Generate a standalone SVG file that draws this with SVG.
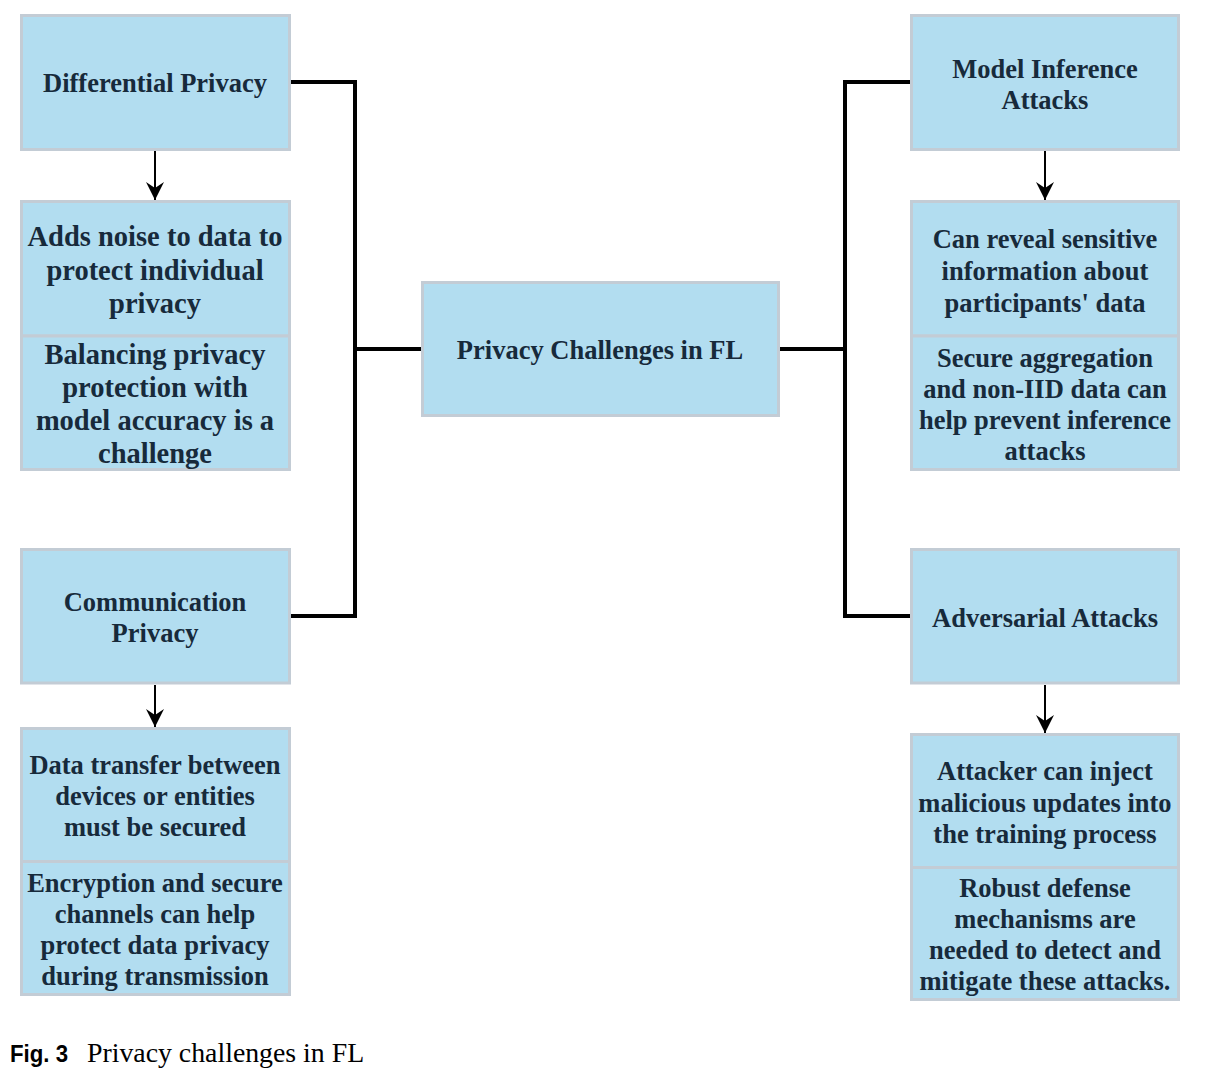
<svg xmlns="http://www.w3.org/2000/svg" width="1206" height="1079" viewBox="0 0 1206 1079">
<style>
.box{fill:#b2ddf0;stroke:#c3ccd5;stroke-width:3}
.t{font-family:"Liberation Serif","Times New Roman",serif;font-weight:bold;font-size:26.5px;fill:#172a3b;text-anchor:middle}
.tb{font-size:28.5px}
.conn{fill:none;stroke:#000;stroke-width:4}
.arr{fill:none;stroke:#000;stroke-width:2}
</style>
<defs>
<marker id="ah2" markerUnits="userSpaceOnUse" markerWidth="19" markerHeight="18" refX="18" refY="9" orient="auto" viewBox="0 0 19 18">
<path d="M0,0 L18,9 L0,18 L6,9 Z" fill="#000"/>
</marker>
</defs>
<rect width="1206" height="1079" fill="#fff"/>
<g id="connectors">
<polyline class="conn" points="291,82 355,82 355,616 291,616"/>
<line class="conn" x1="355" y1="349" x2="421" y2="349"/>
<polyline class="conn" points="910,82 845,82 845,616 910,616"/>
<line class="conn" x1="780" y1="349" x2="845" y2="349"/>
<line class="arr" x1="155" y1="151" x2="155" y2="200" marker-end="url(#ah2)"/>
<line class="arr" x1="155" y1="685" x2="155" y2="727" marker-end="url(#ah2)"/>
<line class="arr" x1="1045" y1="151" x2="1045" y2="200" marker-end="url(#ah2)"/>
<line class="arr" x1="1045" y1="685" x2="1045" y2="733" marker-end="url(#ah2)"/>
</g>
<g id="center">
<rect class="box" x="422.5" y="282.5" width="356" height="133"/>
<text class="t" x="600" y="359">Privacy Challenges in FL</text>
</g>
<g id="dp">
<rect class="box" x="21.5" y="15.5" width="268" height="134"/>
<text class="t" x="155" y="92">Differential Privacy</text>
</g>
<g id="dp-desc">
<rect class="box" x="21.5" y="201.5" width="268" height="134.5"/>
<text class="t tb" x="155" y="246">Adds noise to data to</text>
<text class="t tb" x="155" y="279.5">protect individual</text>
<text class="t tb" x="155" y="313">privacy</text>
</g>
<g id="dp-challenge">
<rect class="box" x="21.5" y="336" width="268" height="133.5"/>
<text class="t tb" x="155" y="364">Balancing privacy</text>
<text class="t tb" x="155" y="397">protection with</text>
<text class="t tb" x="155" y="430">model accuracy is a</text>
<text class="t tb" x="155" y="463">challenge</text>
</g>
<g id="cp">
<rect class="box" x="21.5" y="549.5" width="268" height="133.5"/>
<text class="t" x="155" y="611">Communication</text>
<text class="t" x="155" y="642">Privacy</text>
</g>
<g id="cp-desc">
<rect class="box" x="21.5" y="728.5" width="268" height="133"/>
<text class="t" x="155" y="773.5">Data transfer between</text>
<text class="t" x="155" y="805">devices or entities</text>
<text class="t" x="155" y="836">must be secured</text>
</g>
<g id="cp-solution">
<rect class="box" x="21.5" y="861.5" width="268" height="133"/>
<text class="t" x="155" y="891.5">Encryption and secure</text>
<text class="t" x="155" y="922.5">channels can help</text>
<text class="t" x="155" y="953.5">protect data privacy</text>
<text class="t" x="155" y="984.5">during transmission</text>
</g>
<g id="mia">
<rect class="box" x="911.5" y="15.5" width="267" height="134"/>
<text class="t" x="1045" y="77.5">Model Inference</text>
<text class="t" x="1045" y="108.5">Attacks</text>
</g>
<g id="mia-desc">
<rect class="box" x="911.5" y="201.5" width="267" height="134.5"/>
<text class="t" x="1045" y="248">Can reveal sensitive</text>
<text class="t" x="1045" y="280">information about</text>
<text class="t" x="1045" y="311.5">participants' data</text>
</g>
<g id="mia-solution">
<rect class="box" x="911.5" y="336" width="267" height="133.5"/>
<text class="t" x="1045" y="366.5">Secure aggregation</text>
<text class="t" x="1045" y="398">and non-IID data can</text>
<text class="t" x="1045" y="429">help prevent inference</text>
<text class="t" x="1045" y="460">attacks</text>
</g>
<g id="adv">
<rect class="box" x="911.5" y="549.5" width="267" height="133.5"/>
<text class="t" x="1045" y="627">Adversarial Attacks</text>
</g>
<g id="adv-desc">
<rect class="box" x="911.5" y="734.5" width="267" height="133"/>
<text class="t" x="1045" y="780">Attacker can inject</text>
<text class="t" x="1045" y="811.5">malicious updates into</text>
<text class="t" x="1045" y="843">the training process</text>
</g>
<g id="adv-solution">
<rect class="box" x="911.5" y="867.5" width="267" height="132"/>
<text class="t" x="1045" y="897">Robust defense</text>
<text class="t" x="1045" y="928">mechanisms are</text>
<text class="t" x="1045" y="959">needed to detect and</text>
<text class="t" x="1045" y="990">mitigate these attacks.</text>
</g>
<g id="caption">
<text x="10" y="1062" font-family="'Liberation Sans','Noto Sans',sans-serif" font-weight="bold" font-size="24" fill="#000" textLength="58" lengthAdjust="spacingAndGlyphs">Fig. 3</text>
<text x="87" y="1062" font-family="'Liberation Serif','Times New Roman',serif" font-size="27.8" fill="#000">Privacy challenges in FL</text>
</g>
</svg>
